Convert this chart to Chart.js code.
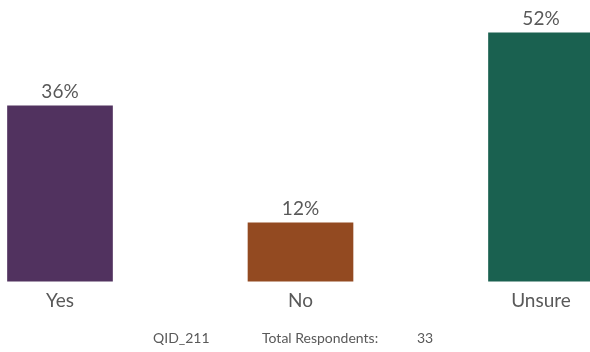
<!DOCTYPE html>
<html>
<head>
<meta charset="utf-8">
<script src="https://cdn.jsdelivr.net/npm/chart.js@4/dist/chart.umd.min.js"></script>
<style>
  html, body { margin: 0; padding: 0; background: #fff; overflow: hidden; }
  #wrap { position: relative; width: 590px; height: 352px; }
  .note { position: absolute; top: 329px; font: 14px Lato, sans-serif; color: #595959; white-space: nowrap; }
</style>
</head>
<body>
<div id="wrap">
  <canvas id="chart" width="590" height="352"></canvas>
  <span class="note" style="left:153px">QID_211</span>
  <span class="note" style="left:262px">Total Respondents:</span>
  <span class="note" style="left:417px">33</span>
</div>
<script>
// share of respondents (17/33, 4/33 ...)
const categories = ["Yes", "No", "Unsure"];
const percents = [36.36, 12.12, 51.52];
const barColors = ["#51325F", "#934A21", "#1A6150"];

const textGray = "#595959";

/* value labels on top of each bar */
const valueLabels = {
    id: "valueLabels",
    afterDatasetsDraw(chart) {
        const ctx = chart.ctx;
        const meta = chart.getDatasetMeta(0);
        ctx.save();
        ctx.font = "19px Lato, sans-serif";
        ctx.fillStyle = textGray;
        ctx.textAlign = "center";
        ctx.textBaseline = "alphabetic";
        meta.data.forEach((bar, i) => {
            ctx.fillText(Math.round(percents[i]) + "%", bar.x, bar.y - 8);
        });
        ctx.restore();
    }
};

new Chart(document.getElementById("chart"), {
    type: "bar",
    data: {
        labels: categories,
        datasets: [{
            data: percents,
            backgroundColor: barColors,
            barThickness: 105,
            clip: false
        }]
    },
    options: {
        responsive: false,
        animation: false,
        layout: { padding: { top: 16, bottom: 40, left: 60, right: 49 } },
        plugins: { legend: { display: false }, tooltip: { enabled: false } },
        scales: {
            x: {
                offset: false,
                grid: { display: false },
                border: { display: false },
                ticks: { color: textGray, font: { family: "Lato", size: 19 }, padding: 0, maxRotation: 0 }
            },
            y: { display: false, min: 0, max: 55 }
        }
    },
    plugins: [valueLabels]
});
</script>
</body>
</html>
